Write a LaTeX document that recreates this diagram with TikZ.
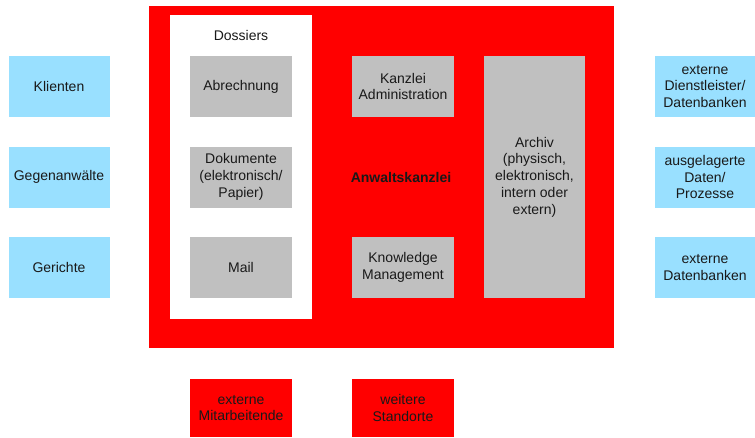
\documentclass[tikz,border=0pt]{standalone}
\usepackage{fontspec}
\setmainfont{Liberation Sans}
\definecolor{lblue}{HTML}{99E0FF}
\definecolor{lgrey}{HTML}{C0C0C0}
\definecolor{kred}{HTML}{FF0000}
\begin{document}
\begin{tikzpicture}[x=1pt,y=-1pt,
  base/.style={rectangle,inner sep=0pt,align=center,font=\fontsize{14}{16.7}\selectfont,text=black!90},
  ext/.style={base,fill=lblue,minimum width=101pt,minimum height=61pt},
  inner/.style={base,fill=lgrey,minimum width=102pt,minimum height=61pt},
  loc/.style={base,fill=kred,minimum width=102pt,minimum height=58pt}]
\useasboundingbox (0,0) rectangle (755,437);
\node[base,fill=kred,minimum width=465pt,minimum height=342pt] (kanzlei) at (381.5,177) {};
\node[base,fill=white,minimum width=142pt,minimum height=304pt] (dossiers) at (241,167) {};
\node[base] (dosslabel) at (241,35) {Dossiers};
\node[base,font=\fontsize{14}{16.7}\selectfont\bfseries] (kanzleilabel) at (401,177) {Anwaltskanzlei};
% left
\node[ext] (klienten) at (59,86.5) {Klienten};
\node[ext] (gegen) at (59,177) {Gegenanwälte};
\node[ext] (gerichte) at (59,267.5) {Gerichte};
% right
\node[ext,minimum width=100pt] (dienst) at (705,86.5) {externe\\Dienstleister/\\Datenbanken};
\node[ext,minimum width=100pt] (ausgel) at (705,177) {ausgelagerte\\Daten/\\Prozesse};
\node[ext,minimum width=100pt] (extdb) at (705,267.5) {externe\\Datenbanken};
% dossiers
\node[inner] (abrechnung) at (241,86.5) {Abrechnung};
\node[inner] (dokumente) at (241,177) {Dokumente\\(elektronisch/\\Papier)};
\node[inner] (mail) at (241,267.5) {Mail};
% kanzlei
\node[inner] (admin) at (403,86.5) {Kanzlei\\Administration};
\node[inner] (knowledge) at (403,267.5) {Knowledge\\Management};
\node[inner,minimum width=101pt,minimum height=242pt] (archiv) at (534.5,177) {Archiv\\(physisch,\\elektronisch,\\intern oder\\extern)};
% bottom
\node[loc] (mitarb) at (241,408) {externe\\Mitarbeitende};
\node[loc] (standorte) at (403,408) {weitere\\Standorte};
\end{tikzpicture}
\end{document}
